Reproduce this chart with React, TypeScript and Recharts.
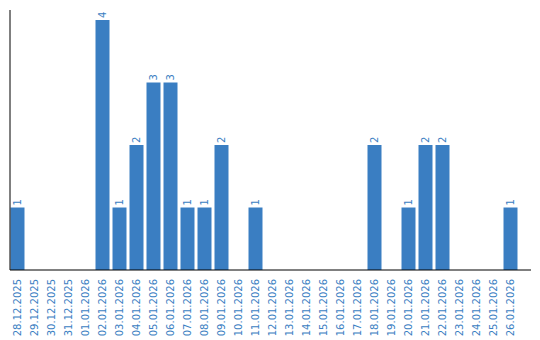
import React, { FC } from 'react';
import { BarChart, Bar, XAxis, YAxis, LabelList } from 'recharts';

const dates = [
  '28.12.2025', '29.12.2025', '30.12.2025', '31.12.2025', '01.01.2026',
  '02.01.2026', '03.01.2026', '04.01.2026', '05.01.2026', '06.01.2026',
  '07.01.2026', '08.01.2026', '09.01.2026', '10.01.2026', '11.01.2026',
  '12.01.2026', '13.01.2026', '14.01.2026', '15.01.2026', '16.01.2026',
  '17.01.2026', '18.01.2026', '19.01.2026', '20.01.2026', '21.01.2026',
  '22.01.2026', '23.01.2026', '24.01.2026', '25.01.2026', '26.01.2026',
];
const counts = [
  1, 0, 0, 0, 0,
  4, 1, 2, 3, 3,
  1, 1, 2, 0, 1,
  0, 0, 0, 0, 0,
  0, 2, 0, 1, 2,
  2, 0, 0, 0, 1,
];

const BLUE = '#3a7ec2';
const FONT = 'DejaVu Sans';

const rows = dates.map((d, i) => ({ name: d, value: counts[i] }));

// rotated date under each bar
const DateTick = (props: any) => {
  const { x, y, payload } = props;
  return (
    <g transform={`translate(${x},${y + 1})`}>
      <text
        transform="rotate(-90)"
        textAnchor="end"
        dy="0.35em"
        fill={BLUE}
        fontSize={10}
        fontFamily={FONT}
      >
        {payload.value}
      </text>
    </g>
  );
};

const ValueLabel = (props: any) => {
  const { x, y, width, value } = props;
  if (!value) return null;
  return (
    <g transform={`translate(${x + width / 2},${y - 2})`}>
      <text
        transform="rotate(-90)"
        textAnchor="start"
        dy="0.35em"
        fill={BLUE}
        fontSize={10}
        fontFamily={FONT}
      >
        {value}
      </text>
    </g>
  );
};

const App: FC = () => (
  <div style={{ position: 'absolute', left: 0, top: 0 }}>
    <BarChart
      width={540}
      height={340}
      data={rows}
      margin={{ top: 10, right: 9, left: 9, bottom: 0 }}
    >
      <XAxis
        dataKey="name"
        interval={0}
        height={70}
        tickLine={false}
        axisLine={{ stroke: '#000' }}
        tick={<DateTick />}
        padding={{ left: -1.5, right: 12.5 }}
      />
      <YAxis
        width={1}
        domain={[0, 4.16]}
        tick={false}
        tickLine={false}
        axisLine={{ stroke: '#000' }}
      />
      <Bar dataKey="value" fill={BLUE} barSize={14} isAnimationActive={false}>
        <LabelList dataKey="value" content={<ValueLabel />} />
      </Bar>
    </BarChart>
  </div>
);

export default App;
